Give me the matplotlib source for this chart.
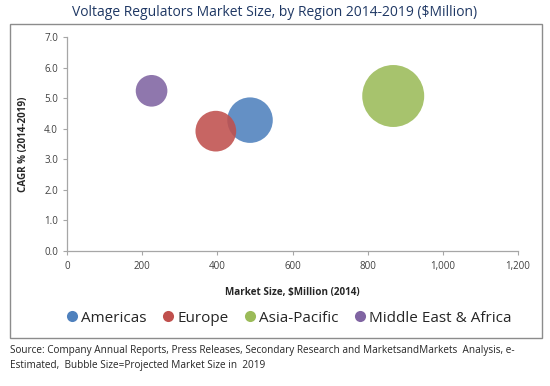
import matplotlib.pyplot as plt
from matplotlib.patches import Rectangle
from matplotlib.lines import Line2D
from matplotlib.ticker import FuncFormatter

# data
regions = ['Americas', 'Europe', 'Asia-Pacific', 'Middle East & Africa']
market_2014 = [487, 396, 868, 225]
cagr = [4.28, 3.92, 5.07, 5.24]
market_2019 = [600, 480, 1112, 290]
colors = ['#4F81BD', '#C0504D', '#9BBB59', '#8064A2']

plt.rcParams['font.family'] = ['Open Sans', 'DejaVu Sans']

fig = plt.figure(figsize=(5.5, 3.86), dpi=100)
W, H = 550, 386

# outer chart frame
fig.patches.append(Rectangle((10 / W, 1 - 338 / H), 532 / W, 314 / H,
                             transform=fig.transFigure, fill=False,
                             edgecolor='#8c8c8c', linewidth=1.0))

ax = fig.add_axes([67 / W, 1 - 251 / H, 451 / W, 214 / H])
scale = 1990 / 1112.0
for x, y, s, c in zip(market_2014, cagr, market_2019, colors):
    ax.scatter(x, y, s=s * scale, color=c, alpha=0.88, edgecolors='none', zorder=3)

ax.set_xlim(0, 1200)
ax.set_ylim(0, 7)
ax.set_xticks(range(0, 1201, 200))
ax.set_yticks([i for i in range(8)])
ax.xaxis.set_major_formatter(FuncFormatter(lambda v, p: f'{int(v):,}'))
ax.yaxis.set_major_formatter(FuncFormatter(lambda v, p: f'{v:.1f}'))
for side in ['top', 'right']:
    ax.spines[side].set_visible(False)
for side in ['left', 'bottom']:
    ax.spines[side].set_color('#a6a6a6')
    ax.spines[side].set_linewidth(0.9)
ax.tick_params(axis='both', colors='#a6a6a6', labelcolor='#404040',
               labelsize=7, length=3, width=0.8)
ax.tick_params(axis='x', pad=4)
ax.set_xlabel('Market Size, $Million (2014)', fontsize=7.1, fontweight='bold',
              color='#262626', labelpad=11)
ax.set_ylabel('CAGR % (2014-2019)', fontsize=7.1, fontweight='bold',
              color='#262626', labelpad=11)

fig.text(0.5, 1 - 12 / H, 'Voltage Regulators Market Size, by Region 2014-2019 ($Million)',
         ha='center', va='center', fontsize=10, color='#1F3864')

handles = [Line2D([], [], marker='o', linestyle='none', markersize=8,
                  markerfacecolor=c, markeredgecolor='none') for c in colors]
fig.legend(handles, regions, loc='center', bbox_to_anchor=(288 / W, 1 - 318 / H),
           ncol=4, frameon=False, fontsize=11, handletextpad=0.1,
           columnspacing=0.9, handlelength=1.0, labelcolor='#262626')

fig.text(10 / W, 1 - 345 / H,
         'Source: Company Annual Reports, Press Releases, Secondary Research and MarketsandMarkets  Analysis, e-\n'
         'Estimated,  Bubble Size=Projected Market Size in  2019',
         ha='left', va='top', fontsize=7.2, color='#262626', linespacing=1.45)

fig.savefig('out.png', dpi=100)
